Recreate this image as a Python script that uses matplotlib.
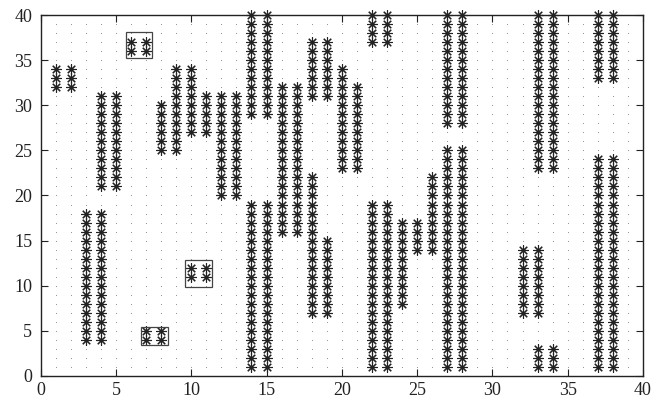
import numpy as np
import matplotlib
matplotlib.use('Agg')
import matplotlib.pyplot as plt
from matplotlib.patches import Rectangle

plt.rcParams['font.family'] = ['Liberation Serif', 'DejaVu Serif']

# vertical runs of occupied cells: column x, from y_lo to y_hi (inclusive)
col_x  = [1, 2, 3, 4, 4, 5, 6, 7, 7, 8, 8, 9, 10, 10, 11, 11, 12, 13,
          14, 14, 15, 15, 16, 17, 18, 18, 19, 19, 20, 21, 22, 22, 23, 23,
          24, 25, 26, 27, 27, 28, 28, 32, 33, 33, 33, 34, 34, 37, 37, 38, 38]
col_lo = [32, 32, 4, 4, 21, 21, 36, 36, 4, 4, 25, 25, 27, 11, 11, 27, 20, 20,
          29, 1, 29, 1, 16, 16, 31, 7, 31, 7, 23, 23, 37, 1, 37, 1,
          8, 14, 14, 28, 1, 28, 1, 7, 23, 7, 1, 23, 1, 33, 1, 33, 1]
col_hi = [34, 34, 18, 18, 31, 31, 37, 37, 5, 5, 30, 34, 34, 12, 12, 31, 31, 31,
          40, 19, 40, 19, 32, 32, 37, 22, 37, 15, 34, 32, 40, 19, 40, 19,
          17, 17, 22, 40, 25, 40, 25, 14, 40, 14, 3, 40, 3, 40, 24, 40, 24]

# highlighted groups (x0, y0, width, height)
box_x = [5.64, 6.64, 9.58]
box_y = [35.2, 3.45, 9.9]
box_w = [1.73, 1.79, 1.77]
box_h = [2.95, 2.03, 2.97]

px, py = [], []
for x, lo, hi in zip(col_x, col_lo, col_hi):
    for y in range(lo, hi + 1):
        px.append(x)
        py.append(y)

fig = plt.figure(figsize=(6.66, 3.98), dpi=100)
ax = fig.add_axes([0.061, 0.0553, 0.9045, 0.907])

gx, gy = np.meshgrid(np.arange(1, 40), np.arange(1, 40))
ax.scatter(gx.ravel(), gy.ravel(), s=0.6, color='#888888', linewidths=0, zorder=1)

ax.plot(px, py, linestyle='none', marker=(8, 2, 0), markersize=7.5,
        markeredgewidth=0.8, color='#222222', clip_on=False, zorder=3)

for x0, y0, w, h in zip(box_x, box_y, box_w, box_h):
    ax.add_patch(Rectangle((x0, y0), w, h, fill=False, edgecolor='#444444',
                           linewidth=0.9, zorder=4))

ax.set_xlim(0, 40)
ax.set_ylim(0, 40)
ax.set_xticks(range(0, 41, 5))
ax.set_yticks(range(0, 41, 5))
ax.tick_params(direction='in', length=5, width=0.8, top=True, right=True,
               labelsize=13, colors='#222222')
ax.tick_params(axis='x', pad=4)
ax.tick_params(axis='y', pad=6)
for s in ax.spines.values():
    s.set_linewidth(1.0)
    s.set_color('#222222')

plt.savefig('out.png', dpi=100)
plt.close()
